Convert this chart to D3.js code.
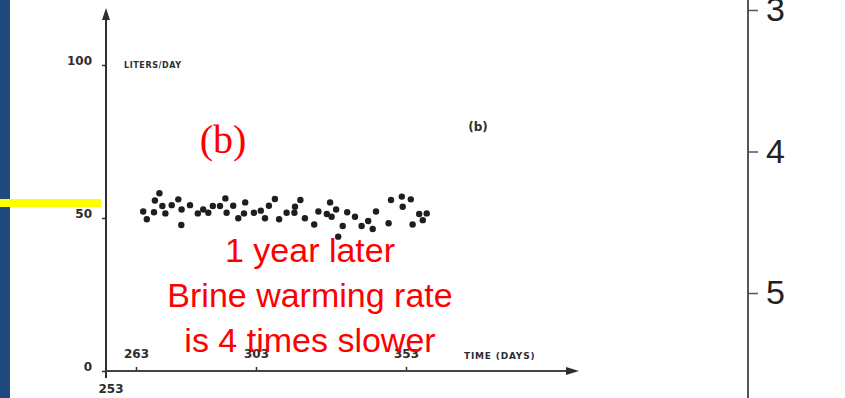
<!DOCTYPE html>
<html>
<head>
<meta charset="utf-8">
<script src="https://cdn.jsdelivr.net/npm/d3@7"></script>
<style>
  body { margin: 0; background: #fff; }
  svg { display: block; }
</style>
</head>
<body>
<div id="chart"></div>
<script>
// data
var days = [265.4, 266.6, 269.0, 269.3, 270.8, 271.8, 272.8, 274.9, 277.1, 278.2,
            278.1, 281.0, 283.6, 285.4, 287.1, 288.6, 291.0, 292.8, 293.2, 295.4,
            297.1, 299.0, 299.4, 302.3, 304.6, 306.0, 307.3, 309.3, 310.7, 313.2,
            315.8, 316.0, 317.8, 319.3, 322.4, 323.8, 326.6, 327.7, 328.2, 329.7,
            331.9, 333.4, 336.0, 338.2, 340.4, 341.9, 343.0, 347.2, 348.0, 351.6,
            351.9, 354.6, 355.2, 357.4, 358.6, 359.9, 330.4];
var liters = [52.1, 49.6, 51.9, 55.7, 58.1, 53.9, 51.5, 54.2, 56.1, 52.8,
              47.7, 54.2, 51.5, 52.8, 51.7, 53.9, 53.9, 56.4, 51.7, 54.0,
              49.9, 51.5, 55.1, 51.7, 52.4, 49.9, 54.0, 56.2, 49.6, 51.7,
              51.7, 53.7, 55.9, 49.9, 47.9, 52.1, 51.3, 55.1, 50.4, 52.8,
              47.4, 51.9, 50.4, 47.4, 49.0, 46.4, 52.1, 48.3, 55.9, 57.0,
              53.7, 56.1, 47.9, 51.3, 49.3, 51.5, 43.9];
var yTicks = [0, 50, 100];
var xTicks = [263, 303, 353];
var depthTicks = [3, 4, 5];
var notes = ["1 year later", "Brine warming rate", "is 4 times slower"];

var width = 845, height = 398;

var svg = d3.select("#chart")
    .append("svg")
    .attr("width", width)
    .attr("height", height);

svg.append("rect").attr("width", width).attr("height", height).attr("fill", "#fff");

var x = d3.scaleLinear().domain([253, 353]).range([106, 406]);
var y = d3.scaleLinear().domain([0, 100]).range([371, 65]);
var depth = d3.scaleLinear().domain([3, 5]).range([10, 293]);

var ink = "#2e2e2e";
var scanFont = "'DejaVu Sans', sans-serif";

// Y axis (liters/day)
var yAxis = svg.append("g")
    .attr("transform", "translate(" + x(253) + ",0)")
    .call(d3.axisLeft(y).tickValues(yTicks).tickSize(4).tickPadding(10));
yAxis.select(".domain").remove();
yAxis.selectAll("line").attr("stroke", ink).attr("stroke-width", 1.5);
yAxis.selectAll("text")
    .attr("dy", "-0.05em")
    .style("font-family", scanFont)
    .style("font-size", "12px")
    .style("font-weight", "bold")
    .attr("fill", ink);

svg.append("line")
    .attr("x1", x(253)).attr("x2", x(253))
    .attr("y1", 16).attr("y2", 378)
    .attr("stroke", ink).attr("stroke-width", 2);
svg.append("path")
    .attr("d", "M" + x(253) + ",8 L" + (x(253) - 4) + ",20 L" + (x(253) + 4) + ",20 Z")
    .attr("fill", ink);

// X axis (time)
var xAxis = svg.append("g")
    .attr("transform", "translate(0," + y(0) + ")")
    .call(d3.axisTop(x).tickValues(xTicks).tickSize(4).tickPadding(9));
xAxis.select(".domain").remove();
xAxis.selectAll("line").attr("stroke", ink).attr("stroke-width", 1.5);
xAxis.selectAll("text")
    .style("font-family", scanFont)
    .style("font-size", "12px")
    .style("font-weight", "bold")
    .attr("fill", ink);

svg.append("line")
    .attr("x1", x(253)).attr("x2", 570)
    .attr("y1", y(0)).attr("y2", y(0))
    .attr("stroke", "#444").attr("stroke-width", 2);
svg.append("path")
    .attr("d", "M579," + y(0) + " L566," + (y(0) - 4) + " L566," + (y(0) + 4) + " Z")
    .attr("fill", ink);

svg.append("text")
    .attr("x", x(253) + 5).attr("y", 393)
    .attr("text-anchor", "middle")
    .style("font-family", scanFont).style("font-size", "12px").style("font-weight", "bold")
    .attr("fill", ink)
    .text("253");

// axis titles from the scan
svg.append("text")
    .attr("x", 124).attr("y", 68)
    .style("font-family", scanFont).style("font-size", "8px").style("font-weight", "bold")
    .attr("letter-spacing", "0.6px")
    .attr("fill", ink)
    .text("LITERS/DAY");
svg.append("text")
    .attr("x", 464).attr("y", 359)
    .style("font-family", scanFont).style("font-size", "9px").style("font-weight", "bold")
    .attr("letter-spacing", "0.8px")
    .attr("fill", ink)
    .text("TIME (DAYS)");
svg.append("text")
    .attr("x", 478).attr("y", 131)
    .attr("text-anchor", "middle")
    .style("font-family", scanFont).style("font-size", "12px").style("font-weight", "bold")
    .attr("fill", ink)
    .text("(b)");

// points
svg.selectAll("circle.pt")
    .data(days)
    .enter()
    .append("circle")
    .attr("class", "pt")
    .attr("cx", function(d) { return x(d); })
    .attr("cy", function(d, i) { return y(liters[i]); })
    .attr("r", 3.2)
    .attr("fill", "#1e1e1e");

// right depth axis
var dAxis = svg.append("g")
    .attr("transform", "translate(748,0)")
    .call(d3.axisRight(depth).tickValues(depthTicks).tickFormat(d3.format("d")).tickSize(10).tickPadding(8));
dAxis.select(".domain").remove();
dAxis.selectAll("line").attr("stroke", "#555").attr("stroke-width", 1.5);
dAxis.selectAll("text")
    .style("font-family", "'Liberation Sans', sans-serif")
    .style("font-size", "34px")
    .attr("fill", "#222");
svg.append("line")
    .attr("x1", 748).attr("x2", 748)
    .attr("y1", 0).attr("y2", height)
    .attr("stroke", "#555").attr("stroke-width", 2);

// slide overlays
svg.append("rect")
    .attr("x", 0).attr("y", 0).attr("width", 10).attr("height", height)
    .attr("fill", "#1f497d");
svg.append("rect")
    .attr("x", 0).attr("y", 199).attr("width", 101).attr("height", 8)
    .attr("fill", "#ffff00");

svg.append("text")
    .attr("x", 223).attr("y", 153)
    .attr("text-anchor", "middle")
    .style("font-family", "'Liberation Serif', serif")
    .style("font-size", "40px")
    .attr("fill", "#ff0000")
    .text("(b)");

svg.selectAll("text.note")
    .data(notes)
    .enter()
    .append("text")
    .attr("class", "note")
    .attr("x", 310)
    .attr("y", function(d, i) { return 262 + i * 45; })
    .attr("text-anchor", "middle")
    .style("font-family", "'Liberation Sans', sans-serif")
    .style("font-size", "34px")
    .attr("fill", "#ff0000")
    .text(function(d) { return d; });
</script>
</body>
</html>
